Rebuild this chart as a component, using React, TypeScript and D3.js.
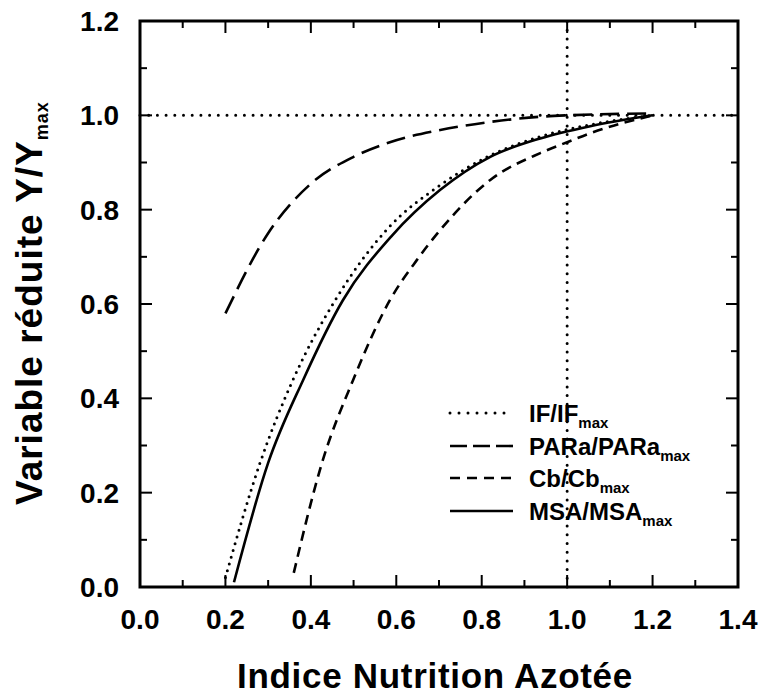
import React from "react";
import * as d3 from "d3";

// Data
const ifX = [0.2, 0.281, 0.358, 0.457, 0.58, 0.703, 0.82, 0.937, 1.054, 1.2];
const ifY = [0.02, 0.263, 0.439, 0.608, 0.76, 0.852, 0.915, 0.955, 0.98, 1.0];

const paraX = [0.2, 0.3, 0.4, 0.5, 0.585, 0.703, 0.82, 0.937, 1.0, 1.2];
const paraY = [0.58, 0.75, 0.855, 0.912, 0.943, 0.969, 0.986, 0.997, 1.0, 1.004];

const cbX = [0.36, 0.426, 0.499, 0.585, 0.648, 0.703, 0.82, 0.937, 1.0, 1.054, 1.2];
const cbY = [0.03, 0.263, 0.439, 0.608, 0.693, 0.757, 0.863, 0.92, 0.943, 0.962, 1.0];

const msaX = [0.22, 0.3, 0.382, 0.475, 0.59, 0.703, 0.82, 0.937, 1.054, 1.2];
const msaY = [0.01, 0.263, 0.439, 0.608, 0.745, 0.842, 0.912, 0.951, 0.977, 1.0];

const xTicks = [0, 0.2, 0.4, 0.6, 0.8, 1.0, 1.2, 1.4];
const yTicks = [0, 0.2, 0.4, 0.6, 0.8, 1.0, 1.2];
const xMinor = [0.1, 0.3, 0.5, 0.7, 0.9, 1.1, 1.3];
const yMinor = [0.1, 0.3, 0.5, 0.7, 0.9, 1.1];

const legendNames = ["IF/IF", "PARa/PARa", "Cb/Cb", "MSA/MSA"];
const refX = 1.0;
const refY = 1.0;

const FONT = "'Liberation Sans', Arial, Helvetica, sans-serif";

export default function App() {
  const W = 760, H = 694;
  const L = 140, R = 738, T = 21, B = 587;
  const x = d3.scaleLinear().domain([0, 1.4]).range([L, R]);
  const y = d3.scaleLinear().domain([0, 1.2]).range([B, T]);

  const line = d3
    .line<[number, number]>()
    .x((d) => x(d[0]))
    .y((d) => y(d[1]))
    .curve(d3.curveMonotoneX);

  const zip = (a: number[], b: number[]) => a.map((v, i) => [v, b[i]] as [number, number]);

  const styles = [
    { dash: "0 7", width: 3, cap: "round" as const, legDash: "0 9" },
    { dash: "19 8", width: 2.6, cap: "butt" as const, legDash: "17 6" },
    { dash: "10 6.5", width: 2.6, cap: "butt" as const, legDash: "10 7" },
    { dash: "none", width: 2.6, cap: "butt" as const, legDash: "none" },
  ];
  const series = [zip(ifX, ifY), zip(paraX, paraY), zip(cbX, cbY), zip(msaX, msaY)];

  const majLen = 12, minLen = 7;
  const legLineY = [413, 446, 478, 511];

  return (
    <svg
      width={W}
      height={H}
      style={{ position: "absolute", left: 0, top: 0, background: "#fff" }}
      fontFamily={FONT}
    >
      <rect x={0} y={0} width={W} height={H} fill="#fff" />
      {/* reference dotted lines */}
      <line
        x1={x(0)} x2={x(1.4)} y1={y(refY)} y2={y(refY)}
        stroke="#000" strokeWidth={3} strokeDasharray="0 8.7" strokeLinecap="round"
      />
      <line
        x1={x(refX)} x2={x(refX)} y1={y(0)} y2={y(1.2)}
        stroke="#000" strokeWidth={3} strokeDasharray="0 8.7" strokeLinecap="round"
      />

      {/* curves */}
      {series.map((s, i) => (
        <path
          key={i}
          d={line(s) || ""}
          fill="none"
          stroke="#000"
          strokeWidth={styles[i].width}
          strokeDasharray={styles[i].dash}
          strokeLinecap={styles[i].cap}
        />
      ))}

      {/* ticks */}
      <g stroke="#000" strokeWidth={2}>
        {xTicks.map((t) => (
          <g key={"xt" + t}>
            <line x1={x(t)} x2={x(t)} y1={B} y2={B - majLen} />
            <line x1={x(t)} x2={x(t)} y1={T} y2={T + majLen} />
          </g>
        ))}
        {xMinor.map((t) => (
          <g key={"xm" + t}>
            <line x1={x(t)} x2={x(t)} y1={B} y2={B - minLen} />
            <line x1={x(t)} x2={x(t)} y1={T} y2={T + minLen} />
          </g>
        ))}
        {yTicks.map((t) => (
          <g key={"yt" + t}>
            <line x1={L} x2={L + majLen} y1={y(t)} y2={y(t)} />
            <line x1={R} x2={R - majLen} y1={y(t)} y2={y(t)} />
          </g>
        ))}
        {yMinor.map((t) => (
          <g key={"ym" + t}>
            <line x1={L} x2={L + minLen} y1={y(t)} y2={y(t)} />
            <line x1={R} x2={R - minLen} y1={y(t)} y2={y(t)} />
          </g>
        ))}
      </g>

      {/* frame */}
      <rect x={L} y={T} width={R - L} height={B - T} fill="none" stroke="#000" strokeWidth={3} />

      {/* tick labels */}
      <g fontSize={28} fontWeight="bold" fill="#000">
        {xTicks.map((t) => (
          <text key={"xl" + t} x={x(t)} y={629} textAnchor="middle">
            {t.toFixed(1)}
          </text>
        ))}
        {yTicks.map((t) => (
          <text key={"yl" + t} x={119} y={y(t) + 10} textAnchor="end">
            {t.toFixed(1)}
          </text>
        ))}
      </g>

      {/* axis titles */}
      <text
        x={435} y={688} textAnchor="middle" fontSize={35} fontWeight="bold"
        letterSpacing={0.7} fill="#000"
      >
        Indice Nutrition Azotée
      </text>
      <text
        transform="translate(42,505) rotate(-90)" textAnchor="start" fontSize={37}
        fontWeight="bold" letterSpacing={1} fill="#000"
      >
        Variable réduite Y/Y
        <tspan fontSize={18} dy={6}>max</tspan>
      </text>

      {/* legend */}
      {legendNames.map((n, i) => (
        <g key={"lg" + i}>
          <line
            x1={450} x2={513} y1={legLineY[i]} y2={legLineY[i]}
            stroke="#000" strokeWidth={styles[i].width}
            strokeDasharray={styles[i].legDash}
            strokeLinecap={styles[i].cap}
          />
          <text x={529} y={legLineY[i] + 9} fontSize={24} fontWeight="bold" fill="#000">
            {n}
            <tspan fontSize={15} dy={6}>max</tspan>
          </text>
        </g>
      ))}
    </svg>
  );
}
